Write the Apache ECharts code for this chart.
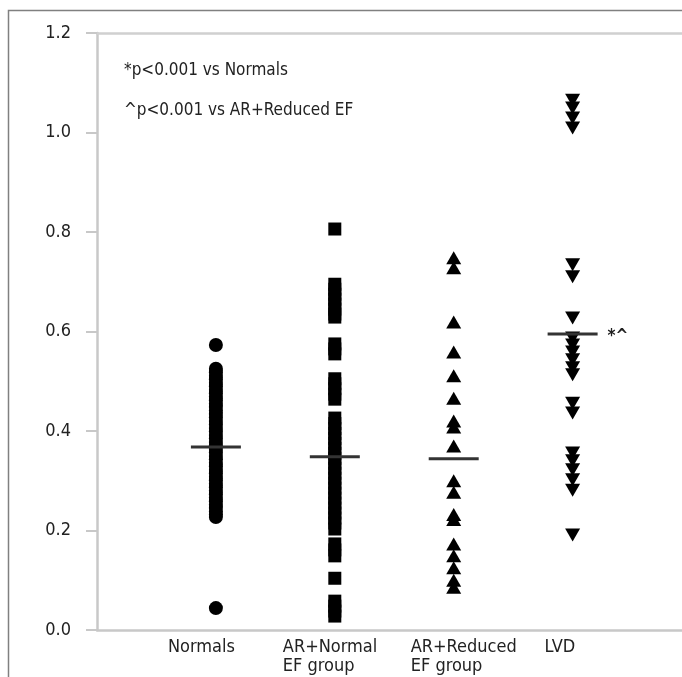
<!DOCTYPE html>
<html>
<head>
<meta charset="utf-8">
<script src="https://cdn.jsdelivr.net/npm/echarts@6/dist/echarts.min.js"></script>
<style>html,body{margin:0;padding:0;background:#fff}#c{width:682px;height:677px}</style>
</head>
<body>
<div id="c"></div>
<script>
var categories = ['Normals', 'AR+Normal\nEF group', 'AR+Reduced\nEF group', 'LVD'];
var yTicks = ['0.0', '0.2', '0.4', '0.6', '0.8', '1.0', '1.2'];
var normals = [0.573, 0.525, 0.518, 0.511, 0.504, 0.497, 0.490, 0.483, 0.476, 0.469, 0.462, 0.455, 0.448, 0.441, 0.434, 0.427, 0.420, 0.413, 0.406, 0.399, 0.392, 0.385, 0.378, 0.371, 0.364, 0.357, 0.350, 0.343, 0.336, 0.329, 0.322, 0.315, 0.308, 0.301, 0.294, 0.287, 0.280, 0.273, 0.266, 0.259, 0.252, 0.245, 0.238, 0.232, 0.227, 0.044];
var arNormal = [0.806, 0.695, 0.685, 0.675, 0.665, 0.655, 0.645, 0.635, 0.629, 0.575, 0.565, 0.555, 0.505, 0.495, 0.485, 0.474, 0.464, 0.426, 0.415, 0.405, 0.395, 0.385, 0.375, 0.365, 0.355, 0.345, 0.335, 0.325, 0.315, 0.305, 0.295, 0.285, 0.275, 0.265, 0.255, 0.245, 0.235, 0.225, 0.215, 0.203, 0.173, 0.161, 0.149, 0.104, 0.058, 0.048, 0.038, 0.028];
var arReduced = [0.748, 0.728, 0.619, 0.559, 0.511, 0.466, 0.420, 0.408, 0.370, 0.300, 0.277, 0.232, 0.222, 0.173, 0.149, 0.125, 0.100, 0.086];
var lvd = [1.065, 1.049, 1.029, 1.009, 0.734, 0.710, 0.627, 0.587, 0.573, 0.559, 0.543, 0.527, 0.513, 0.456, 0.436, 0.356, 0.340, 0.322, 0.302, 0.281, 0.191];
var medians = [0.368, 0.348, 0.344, 0.595];
var medianMarks = ['', '', '', '*^'];
var notes = ['*p<0.001 vs Normals', '^p<0.001 vs AR+Reduced EF'];

var FONT = "'Liberation Sans Narrow', 'DejaVu Sans Condensed', 'Liberation Sans', sans-serif";

function pts(pos, arr) { return arr.map(function (v) { return [pos, v]; }); }

var labelWidths = [96, 104, 86, 56];
var rich = {};
categories.forEach(function (c, i) {
  rich['l' + i] = { width: labelWidths[i], align: 'left', fontFamily: FONT, fontSize: 18, color: '#222', lineHeight: 19 };
});

var chart = echarts.init(document.getElementById('c'), null, { renderer: 'canvas' });
chart.setOption({
  backgroundColor: '#fff',
  animation: false,
  textStyle: { fontFamily: FONT },
  graphic: [
    { type: 'rect', shape: { x: 8.5, y: 10.5, width: 800, height: 800 }, style: { fill: 'none', stroke: '#808080', lineWidth: 1.5 }, silent: true }
  ],
  title: [
    { text: notes[0], left: 119, top: 57, textStyle: { fontFamily: FONT, fontSize: 17, fontWeight: 'normal', color: '#222' } },
    { text: notes[1], left: 119, top: 97, textStyle: { fontFamily: FONT, fontSize: 17, fontWeight: 'normal', color: '#222' } }
  ],
  grid: { left: 97, right: 0, top: 33, bottom: 47, containLabel: false },
  xAxis: [
    {
      type: 'value', min: 0, max: 4.92, interval: 1,
      axisLine: { show: true, lineStyle: { color: '#c8c8c8', width: 2.5 } },
      axisTick: { show: false },
      splitLine: { show: false },
      axisLabel: {
        show: true, margin: 8, showMaxLabel: false, showMinLabel: false,
        formatter: function (v) {
          var i = Math.round(v) - 1;
          if (Math.abs(v - Math.round(v)) > 1e-6 || i < 0 || i >= categories.length) return '';
          return categories[i].split('\n').map(function (s) { return '{l' + i + '|' + s + '}'; }).join('\n');
        },
        rich: rich
      }
    },
    {
      type: 'value', min: 0, max: 4.92, position: 'top',
      axisLine: { show: true, lineStyle: { color: '#d0d0d0', width: 2.5 } },
      axisTick: { show: false }, axisLabel: { show: false }, splitLine: { show: false }
    }
  ],
  yAxis: {
    type: 'value', min: 0, max: 1.2, interval: 0.2,
    axisLine: { show: true, onZero: false, lineStyle: { color: '#c8c8c8', width: 2.5 } },
    axisTick: { show: true, length: 11, lineStyle: { color: '#c8c8c8', width: 2 } },
    splitLine: { show: false },
    axisLabel: {
      margin: 26, fontFamily: FONT, fontSize: 18, color: '#222',
      formatter: function (v) { return yTicks[Math.round(v / 0.2)]; }
    }
  },
  series: [
    { type: 'scatter', symbol: 'circle', symbolSize: 14, data: pts(1, normals), itemStyle: { color: '#000', opacity: 1 } },
    { type: 'scatter', symbol: 'rect', symbolSize: 13, data: pts(2, arNormal), itemStyle: { color: '#000', opacity: 1 } },
    { type: 'scatter', symbol: 'triangle', symbolSize: [15, 13], data: pts(3, arReduced), itemStyle: { color: '#000', opacity: 1 } },
    { type: 'scatter', symbol: 'triangle', symbolRotate: 180, symbolSize: [15, 13], data: pts(4, lvd), itemStyle: { color: '#000', opacity: 1 } },
    {
      type: 'scatter', symbol: 'rect', symbolSize: [50, 3], z: 5,
      data: medians.map(function (v, i) { return { value: [i + 1, v], label: { show: !!medianMarks[i], formatter: medianMarks[i] } }; }),
      itemStyle: { color: '#333', opacity: 1 },
      label: { position: 'right', distance: 10, fontFamily: FONT, fontSize: 17, color: '#222', fontWeight: 'bold', offset: [0, 3] }
    }
  ]
});
</script>
</body>
</html>
